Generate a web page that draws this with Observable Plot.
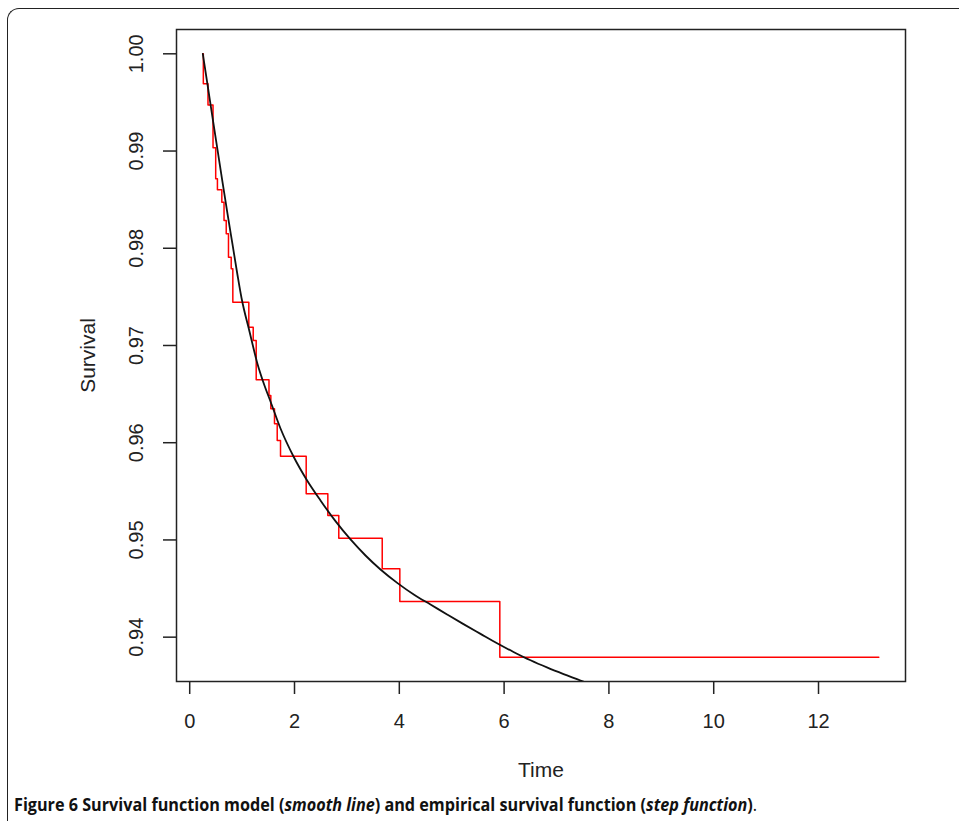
<!DOCTYPE html>
<html>
<head>
<meta charset="utf-8">
<script src="https://cdn.jsdelivr.net/npm/d3@7"></script>
<script src="https://cdn.jsdelivr.net/npm/@observablehq/plot@0.6"></script>
<style>
  html, body { margin: 0; padding: 0; background: #fff; overflow: hidden; }
  #page { position: relative; width: 959px; height: 821px; overflow: hidden; background: #fff; }
  #chart { position: absolute; left: 0; top: 0; }
  #frame { position: absolute; left: 7px; top: 8px; width: 1000px; height: 900px; z-index: 2;
           border-top: 1.5px solid #222; border-left: 1.5px solid #222; border-top-left-radius: 12px; }
  #caption { position: absolute; left: 14px; top: 792px; font-family: "Open Sans", sans-serif; z-index: 3;
             font-size: 18px; line-height: 24px; color: #111; white-space: nowrap; transform-origin: 0 50%; }
  #caption .lead { font-weight: 700; }
  #caption .body { font-weight: 700; }
  #caption .end { font-weight: 400; }
</style>
</head>
<body>
<div id="page">
  <div id="chart"></div>
  <div id="frame"></div>
  <div id="caption"><span class="lead">Figure 6</span><span class="body"> Survival function model (<i>smooth line</i>) and empirical survival function (<i>step function</i>)</span><span class="end">.</span></div>
</div>
<script>
// Empirical survival (step function): event times and survival after each event
const stepTime = [0.25, 0.26, 0.349, 0.445, 0.496, 0.529, 0.613, 0.655, 0.697, 0.740, 0.792, 0.823,
                  1.128, 1.212, 1.269, 1.513, 1.548, 1.618, 1.670, 1.733, 2.223, 2.636, 2.845,
                  3.674, 4.010, 5.918, 13.151];
const stepSurv = [1.0, 0.99691, 0.99473, 0.99033, 0.98714, 0.98601, 0.98474, 0.98286, 0.98149, 0.97908, 0.97789, 0.97445,
                  0.97188, 0.97051, 0.96647, 0.96486, 0.96349, 0.96195, 0.96023, 0.95861, 0.95475, 0.95251, 0.95018,
                  0.94703, 0.94367, 0.93794, 0.93794];

// Survival function model (smooth line)
const modelTime = [0.250, 0.340, 0.435, 0.531, 0.626, 0.721, 0.817, 0.912, 0.989, 1.141, 1.294, 1.427, 1.542,
                   1.733, 1.981, 2.229, 2.496, 2.782, 3.069, 3.355, 3.641, 3.966, 4.290, 4.595, 4.920, 5.225,
                   5.550, 5.874, 6.179, 6.504, 6.828, 7.134, 7.458, 7.515];
const modelSurv = [1.0000, 0.99684, 0.99345, 0.99011, 0.98681, 0.98357, 0.98039, 0.97725, 0.97488, 0.97144, 0.96810, 0.96588, 0.96424,
                   0.96146, 0.95858, 0.95622, 0.95406, 0.95193, 0.95005, 0.94840, 0.94696, 0.94556, 0.94434, 0.94336, 0.94231, 0.94134,
                   0.94034, 0.93935, 0.93848, 0.93762, 0.93686, 0.93620, 0.93554, 0.93542];

const xTicks = [0, 2, 4, 6, 8, 10, 12];
const yTicks = [0.94, 0.95, 0.96, 0.97, 0.98, 0.99, 1.00];

const stepData = stepTime.map((t, i) => ({t, s: stepSurv[i]}));
const modelData = modelTime.map((t, i) => ({t, s: modelSurv[i]}));

const fontFamily = "'Liberation Sans', Arial, Helvetica, sans-serif";
const fs = 20;
const fsTitle = 21;

const chart = Plot.plot({
  width: 959,
  height: 785,
  marginLeft: 176,
  marginRight: 54,
  marginTop: 29,
  marginBottom: 104,
  style: {fontFamily, color: "#222", background: "#fff", overflow: "visible"},
  x: {domain: [-0.252, 13.66]},
  y: {domain: [0.93544, 1.0025]},
  marks: [
    Plot.line(stepData, {x: "t", y: "s", curve: "step-after", stroke: "#ff0000", strokeWidth: 1.5}),
    Plot.line(modelData, {x: "t", y: "s", curve: "monotone-x", stroke: "#111", strokeWidth: 1.8, clip: true}),
    Plot.frame({stroke: "#222", strokeWidth: 1.5}),
    Plot.axisX({ticks: xTicks, tickSize: 13, tickPadding: 19, fontSize: fs, label: null, strokeWidth: 1.5, tickFormat: d => String(d)}),
    Plot.axisY({ticks: yTicks, tickSize: 13, fill: "none", label: null, strokeWidth: 1.5}),
    Plot.text(yTicks, {y: d => d, text: d => d.toFixed(2), frameAnchor: "left", dx: -40, rotate: -90,
                       textAnchor: "middle", lineAnchor: "middle", fontSize: fs, fill: "#222"}),
    Plot.text(["Time"], {frameAnchor: "bottom", dy: 89, textAnchor: "middle", lineAnchor: "middle", fontSize: fsTitle, fill: "#222"}),
    Plot.text(["Survival"], {frameAnchor: "left", dx: -88, rotate: -90, textAnchor: "middle", lineAnchor: "middle", fontSize: fsTitle, fill: "#222"})
  ]
});
document.getElementById("chart").appendChild(chart);

function fitCaption() {
  const cap = document.getElementById("caption");
  cap.style.transform = "none";
  const w = cap.getBoundingClientRect().width;
  if (w > 0) cap.style.transform = `scaleX(${743 / w})`;
}
fitCaption();
if (document.fonts && document.fonts.ready) document.fonts.ready.then(fitCaption);
</script>
</body>
</html>
